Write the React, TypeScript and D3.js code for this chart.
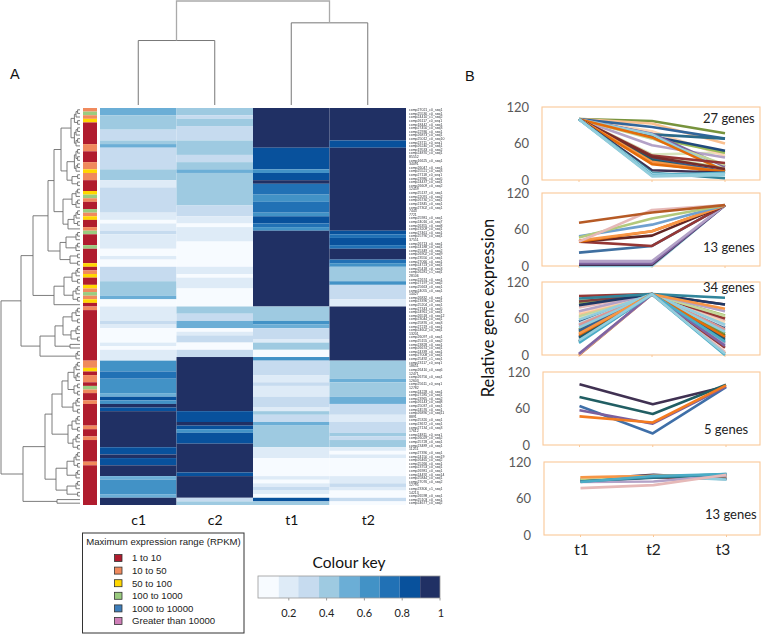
import React from "react";
import * as d3 from "d3";

// ---------- Heatmap data: [level, rowCount] runs, top to bottom ----------
const columns = ["c1", "c2", "t1", "t2"];
const levelColours = ["#f7fbff", "#deebf7", "#c6dbef", "#9ecae1", "#6baed6", "#4292c6", "#2171b5", "#08519c", "#203064"];
const runsC1 = [[4,2],[3,4],[2,3],[3,1],[4,1],[2,6],[3,3],[1,2],[2,7],[1,2],[0,1],[1,2],[2,1],[1,4],[0,2],[1,1],[0,2],[2,4],[3,4],[4,1],[0,2],
  [1,4],[2,1],[1,1],[0,4],[1,1],[0,1],[1,3],[5,3],[6,2],[5,4],[4,1],[7,1],[5,1],[8,1],[7,1],[8,10],[7,2],[8,1],[7,2],[8,3],[4,1],[5,4],[4,1],[8,2]];
const runsC2 = [[3,2],[2,1],[3,2],[2,4],[3,4],[2,2],[3,2],[4,1],[3,9],[2,3],[1,2],[0,1],[1,4],[0,7],[1,2],[0,1],[1,3],[0,5],
  [3,2],[2,2],[4,2],[0,1],[1,1],[2,2],[0,2],[2,2],[8,15],[7,3],[8,1],[7,1],[5,1],[7,3],[8,8],[7,1],[8,6],[2,1],[3,1]];
const runsT1 = [[8,11],[7,6],[5,1],[7,2],[8,1],[6,3],[5,2],[6,3],[5,1],[7,2],[6,1],[5,1],[8,21],
  [3,4],[5,1],[4,1],[2,3],[1,1],[3,2],[0,2],[5,1],[2,4],[1,2],[2,1],[1,3],[2,3],[1,1],[3,1],[2,2],[4,1],[3,6],[1,3],[0,5],[1,1],[0,1],[1,1],[2,1],[1,1],[0,1],[7,1],[3,1]];
const runsT2 = [[8,9],[7,2],[8,23],[7,1],[6,1],[7,2],[6,1],[8,3],[6,1],[5,1],[3,4],[5,1],[2,4],[1,2],
  [8,15],[3,5],[4,1],[3,4],[4,2],[2,3],[1,2],[2,3],[3,1],[2,1],[3,2],[1,1],[0,1],[1,1],[0,5],[1,2],[2,1],[1,1],[0,2],[2,1],[0,1]];
const heatRuns = [runsC1, runsC2, runsT1, runsT2];

// side bar: r red, o orange, y yellow, g green
const sideColours: Record<string, string> = { r: "#b01c2e", o: "#f08a5d", y: "#ffd700", g: "#9acb7f" };
const sideRuns: [string, number][] = [["o",1],["g",1],["o",1],["y",1],["r",6],["o",2],["r",3],["o",2],["y",1],["o",2],["r",3],["y",1],["g",1],["o",1],["r",2],["g",1],["o",1],["y",1],["r",2],["o",1],["g",1],["r",3],["g",1],["r",4],["y",1],["r",1],["o",1],["y",1],["r",2],["y",1],["o",1],["g",1],["o",1],["y",1],["r",1],
  ["o",1],["r",14],["o",2],["y",1],["r",1],["o",2],["r",1],["g",1],["o",1],["r",2],["o",1],["r",6],["o",1],["r",2],["o",1],["r",6],["o",1],["r",11]];

const geneLabels = `comp27021_c0_seq1 comp25530_c0_seq1 comp24410_c1_seq2 comp26117_c0_seq1 comp18442_c0_seq1 comp27450_c0_seq3 comp22936_c0_seq1 comp26873_c0_seq1 comp25012_c0_seq10 comp23711_c0_seq1 comp26240_c0_seq1 comp19533_c0_seq2 comp24870_c0_seq1 85552 comp16625_c0_seq1 34091
comp26047_c0_seq1 comp25521_c0_seq3 comp27118_c0_seq1 comp23980_c0_seq5 comp24437_c0_seq1 comp26609_c0_seq2 12459 comp25137_c0_seq1 comp22091_c0_seq2 comp26730_c1_seq1 comp21845_c0_seq1 comp27302_c0_seq1 7443 7721 comp25981_c0_seq1 comp24016_c0_seq7
comp26355_c0_seq8 comp23209_c0_seq1 comp27461_c0_seq1 comp25790_c0_seq1 37551 comp26713_c0_seq1 comp24188_c0_seq1 comp25349_c0_seq2 comp26902_c0_seq9 comp23550_c0_seq1 comp27066_c0_seq1 comp24723_c0_seq1 comp25418_c0_seq3 comp26281_c1_seq1 28106 comp22674_c0_seq1 comp27197_c0_seq2 comp25663_c0_seq1 comp24055_c0_seq1 14027 comp26832_c0_seq1 comp23396_c0_seq1 comp25204_c0_seq1
comp27343_c0_seq5 comp24961_c0_seq1 comp26518_c0_seq12 comp23044_c0_seq1 comp25876_c0_seq3 comp27219_c0_seq1 comp24602_c0_seq1 13201 comp26097_c0_seq1 comp25155_c0_seq2 comp23828_c0_seq1 comp26674_c0_seq1 comp24339_c0_seq1 comp27008_c0_seq1 comp25492_c1_seq1 comp23117_c0_seq1 18651
comp26410_c0_seq6 12471 comp26756_c0_seq1 12603 comp25611_c0_seq1 12782 comp24228_c0_seq1 comp27285_c0_seq1 comp23965_c0_seq2 comp26143_c0_seq8 comp25037_c0_seq1 comp24576_c0_seq1 comp26890_c0_seq11 8891 comp25320_c0_seq1 comp23672_c0_seq1 comp27134_c0_seq3 17612
comp24811_c0_seq1 comp26029_c0_seq2 comp25728_c0_seq1 comp23489_c0_seq1 11251 comp27390_c0_seq1 comp24150_c0_seq19 comp26465_c0_seq2 comp25266_c0_seq1 comp23753_c0_seq1 comp26981_c0_seq1 comp24492_c0_seq14 comp25844_c0_seq1 comp27076_c0_seq2 12795 comp23306_c1_seq1 14213 comp26598_c0_seq1 comp25103_c0_seq1 comp24677_c0_seq2`.split(/\s+/);

// left dendrogram: [height, child, child]; a number stands for that many leaves
type Tree = number | [number, Tree, Tree];
const clusterA: Tree = [19, [9, 5, 6], [13, [6, 7, 0], [8, 2, 2]]];
const clusterB: Tree = [17, [8, 3, 3], [12, [6, 3, 2], 1]];
const clusterC: Tree = [20, [14, 3, 3], [10, 2, 2]];
const clusterD: Tree = [26, [16, [8, 3, 2], [7, 3, 2]], 1];
const clusterE: Tree = [40, [25, [17, [8, 3, 2], [9, 3, 2]], [10, 1, 1]], 3];
const clusterG: Tree = [28, [18, [12, [6, 3, 3], [6, 2, 2]], [7, 3, 2]], [12, [8, 3, 2], [7, 3, 2]]];
const clusterH: Tree = [24, [13, [6, 3, 2], 3], [13, 3, 2]];
const clusterI: Tree = [23, 1, 1];
const rowTree: Tree = [79,
  [59, [47, [32, [26, clusterA, clusterB], clusterC], clusterD], clusterE],
  [57, [35, clusterG, clusterH], clusterI]];

// top dendrogram merge heights
const colLeftHeight = 0.62;
const colRightHeight = 0.79;
const colRootHeight = 1;

// ---------- Line panels ----------
const timepoints = ["t1", "t2", "t3"];
const panelTicks = [0, 60, 120];
type Gene = [string, number, number, number];
const panelOne: Gene[] = [
  ["#d7e4bd",100,42,45],["#c4d79b",100,38,20],["#77933c",100,97,77],["#fac090",100,93,60],["#fcd5b5",100,80,40],["#9bbb59",100,70,45],["#1f497d",100,72,48],["#31659b",100,87,68],["#2a6a8a",100,75,68],["#b3a2c7",100,57,37],["#8064a2",100,76,22],["#c3d69b",100,68,25],["#93cddd",100,75,15],["#e46c0a",100,70,15],["#953735",100,40,28],["#376092",100,35,14],["#215968",100,33,10],["#772c2a",100,38,18],["#f79646",100,30,13],["#f79646",100,28,11],["#e46c0a",100,26,14],["#403152",100,16,12],["#31859b",100,12,3],["#b7dde8",100,10,9],["#4bacc6",100,8,12],["#93cddd",100,7,10],["#92cddc",100,6,8],
];
const panelTwo: Gene[] = [
  ["#93cddd",0,0,100],["#403152",2,2,100],["#8064a2",4,4,100],["#b3a2c7",8,8,100],["#3f6fa0",22,33,100],["#953735",40,33,100],["#632523",40,50,100],["#e46c0a",40,57,100],["#f79646",42,57,100],["#6fa0d0",49,68,100],["#b3c97c",47,78,100],["#e6b9b8",40,92,100],["#b65a25",71,88,100],
];
const panelThree: Gene[] = [
  ["#e46c0a",0,100,3],["#e6b9b8",25,100,5],["#953735",22,100,12],["#403152",30,100,28],["#215968",28,100,25],["#4f6228",38,100,32],["#77933c",42,100,35],["#8eb4e3",48,100,40],["#376092",40,100,20],["#1f497d",55,100,45],["#b7dde8",52,100,48],["#d99694",50,100,42],["#ccc1da",62,100,50],["#d7e4bd",60,100,60],["#c3d69b",64,100,55],["#fac090",68,100,62],["#fcd5b5",70,100,55],["#e6b9b8",78,100,58],["#953735",97,100,60],["#9bbb59",85,100,65],["#c4d79b",90,100,64],["#b3a2c7",72,100,72],["#7f3f3f",88,100,83],["#1f3864",82,100,83],["#31859b",93,100,94],["#93cddd",58,100,50],["#92cddc",45,100,38],["#e46c0a",33,100,30],["#f79646",35,100,76],["#b3a2c7",1,100,18],["#8064a2",2,100,15],["#4bacc6",22,100,22],["#4bacc6",20,100,0],["#93cddd",24,100,2],
];
const panelFour: Gene[] = [
  ["#403152",100,67,96],["#215e63",79,51,99],["#3f6fa8",64,19,95],["#7b5f9e",57,35,96],["#f47b20",47,37,98],
];
const panelFive: Gene[] = [
  ["#953735",89,95,92],["#8eb4e3",90,98,92],["#403152",91,99,93],["#93cddd",90,97,91],["#9bbb59",92,96,97],["#c3d69b",93,97,98],["#fac090",95,97,97],["#f79646",95,97,98],["#215968",88,94,99],["#b3a2c7",87,88,98],["#31859b",88,95,100],["#4bacc6",87,97,100],["#e6b9b8",77,82,99],
];
const panelGenes = [panelOne, panelTwo, panelThree, panelFour, panelFive];
const panelNotes = ["27 genes", "13 genes", "34 genes", "5 genes", "13 genes"];

// ---------- Legends ----------
const legendItems = ["1 to 10", "10 to 50", "50 to 100", "100 to 1000", "1000 to 10000", "Greater than 10000"];
const legendColours = ["#b01c2e", "#f08a5d", "#ffd700", "#9acb7f", "#3d7ebb", "#cf7fb8"];
const keyTicks = [0.2, 0.4, 0.6, 0.8, 1];
const keyEdges = [0.037, 0.147, 0.25, 0.36, 0.466, 0.573, 0.68, 0.787, 0.895, 1];

const calibri = "Lato, 'Open Sans', sans-serif";
const helv = "'Liberation Sans', Arial, sans-serif";

// ---------- Layout ----------
const heatX = d3.scaleBand<string>().domain(columns).range([100, 406]);
const totalRows = d3.sum(runsC1, (d) => d[1]);
const rowY = d3.scaleLinear().domain([0, totalRows]).range([108, 505]);
const treeX = d3.scaleLinear().domain([0, 79]).range([80, 1]);
const colHeight = d3.scaleLinear().domain([0, 1]).range([105, 1]);
const keyX = d3.scaleLinear().domain([0.037, 1]).range([258, 440]);
const frames = [
  { left: 542, top: 107, bottom: 180, x1: 579, x2: 725 },
  { left: 542, top: 193, bottom: 266, x1: 579, x2: 725 },
  { left: 542, top: 282, bottom: 355, x1: 579, x2: 725 },
  { left: 543, top: 372, bottom: 445, x1: 579.5, x2: 726 },
  { left: 544, top: 462, bottom: 535, x1: 580.5, x2: 726.5 },
];

function rowDendrogram(): string {
  const p = d3.path();
  let next = 0;
  const step = (rowY(1) - rowY(0));
  const walk = (t: Tree): { x: number; y: number } => {
    if (typeof t === "number") {
      if (t === 0) return { x: NaN, y: NaN };
      if (t === 1) { const y = rowY(next) + step / 2; next += 1; return { x: treeX(0), y }; }
      const a = Math.ceil(t / 2);
      return walk([1.6 * Math.ceil(Math.log2(t)) + 0.8, a, t - a]);
    }
    const l = walk(t[1]);
    const r = walk(t[2]);
    if (isNaN(r.x)) return l;
    const x = treeX(t[0]);
    p.moveTo(l.x, l.y); p.lineTo(x, l.y); p.lineTo(x, r.y); p.lineTo(r.x, r.y);
    return { x, y: (l.y + r.y) / 2 };
  };
  walk(rowTree);
  return p.toString();
}

function colDendrogram(): { d: string; stroke: string; w: number }[] {
  const cx = (c: string) => (heatX(c) as number) + heatX.bandwidth() / 2;
  const bracket = (a: number, ay: number, b: number, by: number, y: number) => {
    const p = d3.path();
    p.moveTo(a, ay); p.lineTo(a, y); p.lineTo(b, y); p.lineTo(b, by);
    return p.toString();
  };
  const yL = colHeight(colLeftHeight), yR = colHeight(colRightHeight), yT = colHeight(colRootHeight);
  const base = colHeight(0);
  return [
    { d: bracket(cx("c1"), base, cx("c2"), base, yL), stroke: "#777", w: 1 },
    { d: bracket(cx("t1"), base, cx("t2"), base, yR), stroke: "#777", w: 1 },
    { d: bracket((cx("c1") + cx("c2")) / 2, yL, (cx("t1") + cx("t2")) / 2, yR, yT), stroke: "#aaa", w: 1.3 },
  ];
}

function HeatColumn({ col, runs }: { col: string; runs: number[][] }) {
  let at = 0;
  return (
    <g>
      {runs.map(([lv, n], i) => {
        const y0 = rowY(at); at += n; const y1 = rowY(at);
        return <rect key={i} x={heatX(col)} y={y0} width={heatX.bandwidth()} height={y1 - y0} fill={levelColours[lv]} />;
      })}
    </g>
  );
}

function Panel({ idx }: { idx: number }) {
  const f = frames[idx];
  const y = d3.scaleLinear().domain([0, 120]).range([f.bottom, f.top]);
  const x = d3.scalePoint<string>().domain(timepoints).range([f.x1, f.x2]);
  const line = d3.line<number>().x((_, i) => x(timepoints[i]) as number).y((d) => y(d));
  return (
    <g>
      <rect x={f.left} y={f.top} width={760 - f.left} height={f.bottom - f.top} fill="none" stroke="#fac898" strokeWidth={1.1} />
      {timepoints.map((t) => (
        <line key={t} x1={x(t)} x2={x(t)} y1={f.bottom} y2={f.bottom + 2} stroke="#fac898" />
      ))}
      {panelTicks.map((t) => (
        <text key={t} x={f.left - 13} y={y(t)} dy="0.36em" textAnchor="end" fontFamily={calibri} fontSize={13} fill="#595959">{t}</text>
      ))}
      {panelGenes[idx].map(([c, a, b, d], i) => (
        <path key={i} d={line([a, b, d]) as string} fill="none" stroke={c} strokeWidth={2.6} strokeLinejoin="round" />
      ))}
    </g>
  );
}

export default function App() {
  const noteX = [703, 703, 703, 704, 705];
  const noteY = [118, 247, 287, 429, 514];
  const legendY = d3.scalePoint<string>().domain(legendItems).range([558, 621]);
  let sideAt = 0;
  return (
    <svg width={763} height={634} viewBox="0 0 763 634" style={{ position: "absolute", left: 0, top: 0, display: "block", background: "#fff" }}>
      <defs>
        <filter id="soft" x="-5%" y="-5%" width="110%" height="110%"><feGaussianBlur stdDeviation="0.3" /></filter>
      </defs>
      {/* panel letters */}
      <text x={10} y={79} fontFamily={helv} fontSize={14.5} fill="#111">A</text>
      <text x={465} y={81} fontFamily={helv} fontSize={14.5} fill="#111">B</text>

      {/* column dendrogram */}
      {colDendrogram().map((s, i) => <path key={i} d={s.d} fill="none" stroke={s.stroke} strokeWidth={s.w} />)}

      {/* row dendrogram */}
      <path d={rowDendrogram()} fill="none" stroke="#6e6e6e" strokeWidth={0.9} />

      {/* side bar */}
      <g>
        {sideRuns.map(([c, n], i) => {
          const y0 = rowY(sideAt); sideAt += n; const y1 = rowY(sideAt);
          return <rect key={i} x={83} y={y0} width={14} height={y1 - y0} fill={sideColours[c]} />;
        })}
      </g>

      {/* heat map */}
      {columns.map((c, i) => <HeatColumn key={c} col={c} runs={heatRuns[i]} />)}
      {columns.map((c) => (
        <text key={c} x={(heatX(c) as number) + heatX.bandwidth() / 2 + 0.5} y={520} dy="0.36em" textAnchor="middle" fontFamily={calibri} fontSize={14} fill="#111">{c}</text>
      ))}

      {/* gene labels */}
      <g fontFamily={helv} fontSize={3.5} fill="#2f3338" filter="url(#soft)">
        {geneLabels.map((g, i) => (
          <text key={i} x={409} y={rowY(i) + (rowY(1) - rowY(0)) / 2} dy="0.36em">{g}</text>
        ))}
      </g>

      {/* expression legend */}
      <rect x={82.5} y={533} width={161.5} height={100} fill="#fff" stroke="#333" strokeWidth={1} />
      <text x={163.5} y={542} dy="0.36em" textAnchor="middle" fontFamily={helv} fontSize={9.6} fill="#222">Maximum expression range (RPKM)</text>
      {legendItems.map((t, i) => (
        <g key={t}>
          <rect x={114.5} y={(legendY(t) as number) - 3.5} width={7.5} height={7} fill={legendColours[i]} stroke="#333" strokeWidth={0.8} />
          <text x={132} y={legendY(t)} dy="0.36em" fontFamily={helv} fontSize={9.6} fill="#222">{t}</text>
        </g>
      ))}

      {/* colour key */}
      <text x={349} y={562} dy="0.36em" textAnchor="middle" fontFamily={calibri} fontSize={15.5} fill="#111">Colour key</text>
      {levelColours.map((c, i) => (
        <rect key={i} x={keyX(keyEdges[i])} y={576} width={keyX(keyEdges[i + 1]) - keyX(keyEdges[i])} height={22} fill={c} />
      ))}
      <rect x={258} y={576} width={182} height={22} fill="none" stroke="#9a9a9a" strokeWidth={0.8} />
      {keyTicks.map((t) => (
        <g key={t}>
          <line x1={keyX(t)} x2={keyX(t)} y1={598} y2={600.5} stroke="#9a9a9a" />
          <text x={keyX(t) + (t === 1 ? 1 : 0)} y={613} dy="0.36em" textAnchor="middle" fontFamily={calibri} fontSize={11} fill="#222">{t}</text>
        </g>
      ))}

      {/* panels */}
      {frames.map((_, i) => <Panel key={i} idx={i} />)}
      {panelNotes.map((n, i) => (
        <text key={i} x={noteX[i]} y={noteY[i]} dy="0.36em" fontFamily={calibri} fontSize={13} fill="#222">{n}</text>
      ))}
      {timepoints.map((t, i) => (
        <text key={t} x={[581.5, 653.5, 723][i]} y={549} dy="0.36em" textAnchor="middle" fontFamily={calibri} fontSize={15.5} fill="#222">{t}</text>
      ))}
      <text transform="translate(488,308) rotate(-90)" textAnchor="middle" dy="0.36em" fontFamily={calibri} fontSize={16.5} fill="#111">Relative gene expression</text>
    </svg>
  );
}
